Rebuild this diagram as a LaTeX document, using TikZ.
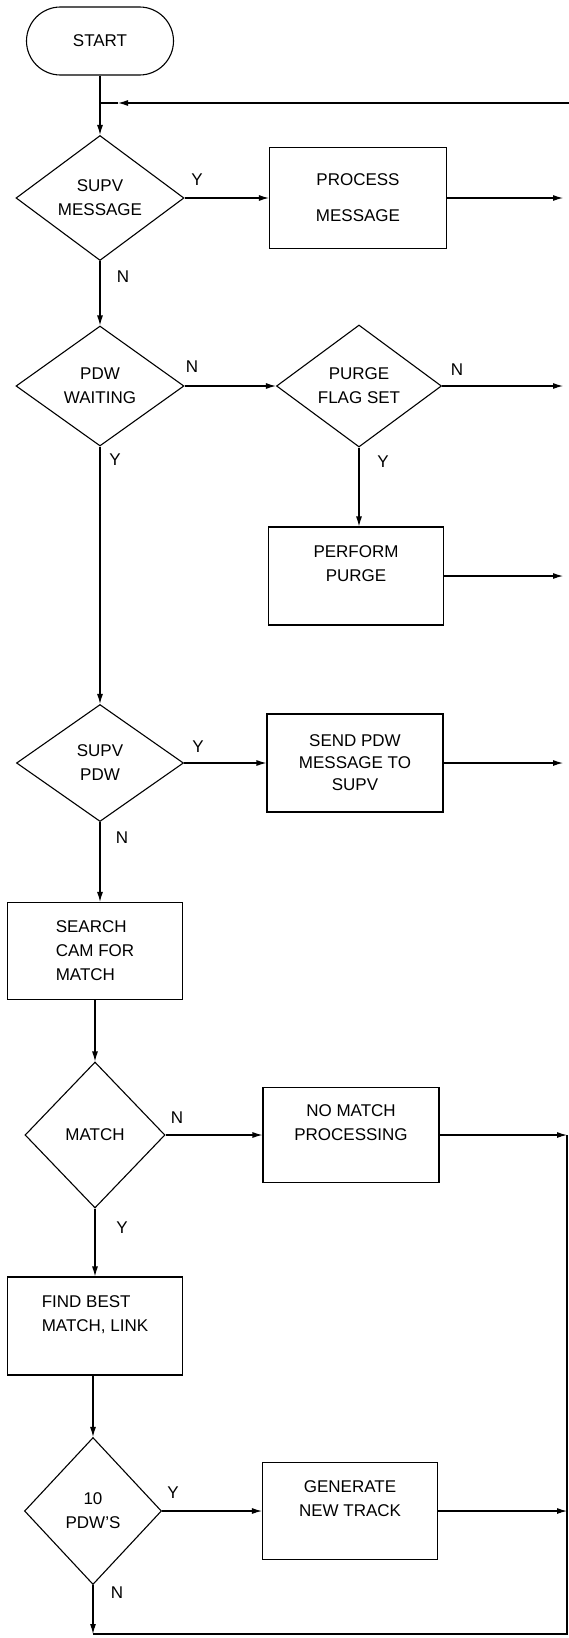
\documentclass[tikz,border=0pt]{standalone}
\usepackage{fontspec}
\setmainfont{Liberation Sans}
\usetikzlibrary{shapes.geometric,arrows.meta}
\begin{document}
\begin{tikzpicture}[x=1pt,y=-1pt,
  every node/.style={font=\fontsize{17}{24}\selectfont},
  line/.style={line width=1.1pt},
  arr/.style={line width=1.1pt,-{Latex[length=10pt,width=6pt]}},
  procbox/.style={draw,line width=1.1pt,rectangle,inner sep=0pt,align=center},
  decision/.style={draw,line width=1.1pt,diamond,aspect=1.4,inner sep=0pt,align=center},
  terminal/.style={draw,line width=1.1pt,rectangle,rounded corners=34pt,inner sep=0pt},
  lab/.style={font=\fontsize{17}{20}\selectfont}
]
\useasboundingbox[fill=white] (0,0) rectangle (569,1638);

% nodes
\node[terminal,minimum width=147pt,minimum height=68pt] (start) at (100,41) {START};
\node[decision,minimum width=168pt,minimum height=125pt] (d1) at (100,198) {SUPV\\MESSAGE};
\node[procbox,minimum width=177pt,minimum height=101pt,font=\fontsize{17}{36}\selectfont] (p1) at (358,198) {PROCESS\\MESSAGE};
\node[decision,minimum width=168pt,minimum height=120pt] (d2) at (100,386) {PDW\\WAITING};
\node[decision,minimum width=165pt,minimum height=122pt] (d3) at (359,386) {PURGE\\FLAG SET};
\node[procbox,minimum width=175pt,minimum height=98pt] (p2) at (356,576) {PERFORM\\PURGE\\ \mbox{}};
\node[decision,minimum width=167pt,minimum height=117pt] (d4) at (100,763) {SUPV\\PDW};
\node[procbox,minimum width=176pt,minimum height=98pt,font=\fontsize{17}{22}\selectfont] (p3) at (355,763) {SEND PDW\\MESSAGE TO\\SUPV};
\node[procbox,minimum width=175pt,minimum height=97pt,align=left,font=\fontsize{17}{24}\selectfont] (p4) at (95,951) {SEARCH\\CAM FOR\\MATCH};
\node[decision,aspect=1,minimum width=140pt,minimum height=146pt] (d5) at (95,1135) {MATCH};
\node[procbox,minimum width=176pt,minimum height=95pt] (p5) at (351,1135) {NO MATCH\\PROCESSING\\ \mbox{}};
\node[procbox,minimum width=175pt,minimum height=98pt,align=left] (p6) at (95,1326) {FIND BEST\\MATCH, LINK\\ \mbox{}};
\node[decision,aspect=1,minimum width=137pt,minimum height=147pt] (d6) at (93,1511) {10\\PDW'S};
\node[procbox,minimum width=175pt,minimum height=97pt] (p7) at (350,1511) {GENERATE\\NEW TRACK\\ \mbox{}};

% helper coordinates
\coordinate (rx) at (563,0);
\coordinate (loopR) at (569,103);
\coordinate (loopA) at (118,103);
\coordinate (loopJ) at (100,103);
\coordinate (bl) at (93,1634);
\coordinate (br) at (567,1634);
\coordinate (rt) at (567,1135);

% connectors
\draw[arr] (start.south) -- (d1.north);
\draw[arr] (loopR) -- (loopA);
\draw[line] (loopA) -- (loopJ);
\draw[arr] (d1.east) -- (p1.west);
\draw[arr] (p1.east) -- (p1.east -| rx);
\draw[arr] (d1.south) -- (d2.north);
\draw[arr] (d2.east) -- (d3.west);
\draw[arr] (d3.east) -- (d3.east -| rx);
\draw[arr] (d3.south) -- (d3.south |- p2.north);
\draw[arr] (p2.east) -- (p2.east -| rx);
\draw[arr] (d2.south) -- (d4.north);
\draw[arr] (d4.east) -- (p3.west);
\draw[arr] (p3.east) -- (p3.east -| rx);
\draw[arr] (d4.south) -- (p4.north -| d4.south);
\draw[arr] (p4.south) -- (d5.north);
\draw[arr] (d5.east) -- (p5.west);
\draw[arr] (p5.east) -- (rt);
\draw[arr] (d5.south) -- (p6.north);
\draw[arr] (p6.south -| d6.north) -- (d6.north);
\draw[arr] (d6.east) -- (p7.west);
\draw[arr] (p7.east) -- (p7.east -| br);
\draw[arr] (d6.south) -- (bl);
\draw[line] (bl) -- (br) -- (rt);

% branch labels
\node[lab] (l1) at (197,180) {Y};
\node[lab] (l2) at (123,277) {N};
\node[lab] (l3) at (192,367) {N};
\node[lab] (l4) at (457,370) {N};
\node[lab] (l5) at (115,460) {Y};
\node[lab] (l6) at (383,462) {Y};
\node[lab] (l7) at (198,747) {Y};
\node[lab] (l8) at (122,838) {N};
\node[lab] (l9) at (177,1118) {N};
\node[lab] (l10) at (122,1228) {Y};
\node[lab] (l11) at (173,1493) {Y};
\node[lab] (l12) at (117,1593) {N};
\end{tikzpicture}
\end{document}
